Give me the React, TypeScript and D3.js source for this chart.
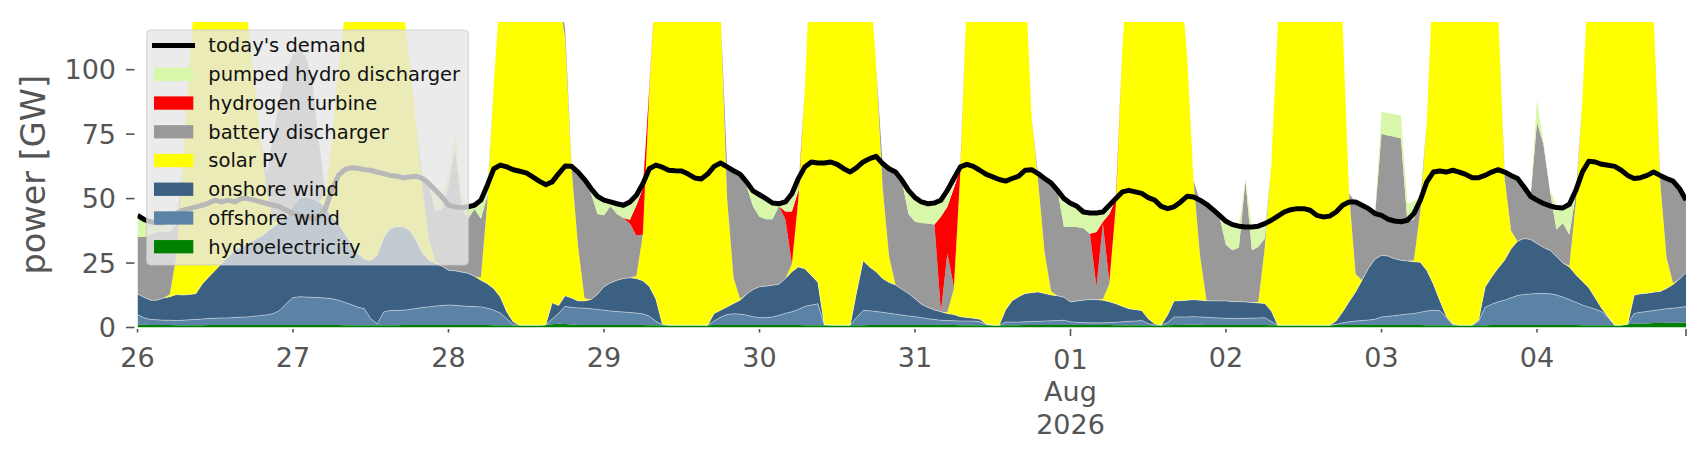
import * as d3 from 'd3'
import { useEffect, useRef } from 'react'

// hourly values in GW, 26 Jul 2026 00:00 to 04 Aug 2026 23:00, one line per day
const hydroelectricity = [
    1.1, 1.1, 1.0, 1.0, 1.0, 1.0, 0.9, 0.9, 0.9, 0.9, 0.9, 1.0, 1.0, 1.0, 1.0, 1.0, 1.0, 1.0, 1.0, 1.0, 1.0, 1.0, 1.0, 1.0,
    1.0, 1.0, 1.0, 1.0, 1.0, 1.0, 1.0, 1.0, 0.9, 0.9, 0.9, 0.9, 0.9, 0.9, 0.9, 0.9, 0.9, 1.0, 1.0, 1.0, 1.0, 1.0, 1.0, 1.0,
    1.0, 1.0, 1.0, 1.0, 1.0, 1.0, 1.0, 0.9, 0.9, 0.9, 0.9, 0.9, 0.9, 0.9, 0.9, 1.0, 1.3, 1.5, 1.4, 1.2, 1.0, 1.0, 1.0, 1.0,
    1.0, 1.0, 1.0, 1.0, 1.0, 1.0, 1.0, 0.9, 0.9, 0.9, 0.9, 0.9, 0.9, 0.9, 0.9, 0.9, 0.9, 1.0, 1.0, 1.0, 1.0, 1.0, 1.0, 1.0,
    1.0, 1.0, 1.0, 1.0, 1.0, 1.0, 1.0, 0.9, 0.9, 0.9, 0.9, 0.9, 0.9, 0.9, 0.9, 0.9, 0.9, 1.0, 1.0, 1.0, 1.0, 1.0, 1.0, 1.0,
    1.0, 1.0, 1.0, 1.0, 1.0, 1.0, 1.0, 0.9, 0.9, 0.9, 0.9, 0.9, 0.9, 0.9, 0.9, 0.9, 0.9, 1.0, 1.0, 1.0, 1.0, 1.0, 1.0, 1.0,
    1.0, 1.0, 1.0, 1.0, 1.0, 1.0, 1.0, 0.9, 0.9, 0.9, 0.9, 0.9, 0.9, 0.9, 0.9, 0.9, 1.0, 1.0, 1.1, 1.2, 1.1, 1.0, 1.0, 1.0,
    1.0, 1.0, 1.0, 1.0, 1.0, 1.0, 1.0, 0.9, 0.9, 0.9, 0.9, 0.9, 0.9, 0.9, 0.9, 0.9, 0.9, 1.0, 1.0, 1.0, 1.0, 1.0, 1.0, 1.0,
    1.0, 1.0, 1.0, 1.0, 1.0, 1.0, 1.0, 0.9, 0.9, 0.9, 0.9, 0.9, 0.9, 0.9, 0.9, 0.9, 0.9, 1.0, 1.0, 1.0, 1.0, 1.0, 1.0, 1.0,
    1.0, 1.0, 1.0, 1.0, 1.0, 1.0, 1.0, 0.9, 0.9, 0.9, 0.9, 0.9, 0.9, 0.9, 1.3, 1.5, 1.6, 1.6, 1.7, 1.7, 1.8, 1.8, 1.8, 1.8,
]

const offshoreWind = [
    3.8, 2.7, 2.1, 2.0, 1.8, 1.8, 1.8, 1.9, 2.1, 2.2, 2.4, 2.5, 2.6, 2.7, 2.7, 2.9, 3.0, 3.1, 3.4, 3.6, 3.9, 4.4, 5.7, 8.3,
    10.6, 10.9, 10.8, 10.7, 10.6, 10.4, 10.2, 9.6, 8.8, 8.0, 7.0, 6.4, 2.5, 0.5, 5.1, 5.7, 5.7, 5.7, 6.0, 6.4, 6.8, 7.0, 7.3, 7.5,
    7.7, 7.6, 7.4, 7.2, 7.1, 7.0, 6.5, 5.8, 4.7, 2.5, 0.2, 0, 0, 0, 0, 0, 2.0, 4.0, 6.8, 6.6, 6.6, 6.5, 6.3, 6.0,
    5.7, 5.4, 5.2, 5.0, 4.8, 4.6, 4.3, 3.5, 1.5, 0.2, 0, 0, 0, 0, 0, 0, 0, 1.5, 3.0, 4.0, 4.3, 4.2, 3.8, 3.2,
    2.8, 2.8, 3.1, 3.7, 4.5, 5.1, 6.0, 7.3, 7.8, 8.3, 0.2, 0, 0, 0, 0, 3.0, 5.7, 5.5, 5.2, 4.9, 4.5, 4.2, 3.8, 3.5,
    3.2, 2.8, 2.4, 2.1, 1.8, 1.7, 1.6, 1.6, 1.6, 1.6, 1.3, 0.3, 0, 0, 1.2, 1.2, 1.2, 1.2, 1.3, 1.4, 1.5, 1.6, 1.7, 1.8,
    1.2, 1.0, 0.9, 0.8, 0.8, 0.8, 0.9, 1.1, 1.3, 1.5, 1.6, 1.8, 0.6, 0, 0, 1.0, 3.1, 3.1, 3.0, 3.0, 3.0, 2.9, 2.8, 2.7,
    2.6, 2.5, 2.5, 2.6, 2.6, 2.7, 2.8, 1.4, 0, 0, 0, 0, 0, 0, 0, 0, 0, 0.2, 0.8, 1.2, 1.5, 1.7, 1.9, 2.2,
    3.1, 3.3, 3.6, 3.9, 4.2, 4.4, 4.9, 5.5, 5.8, 5.6, 3.0, 0.2, 0, 0, 0, 1.5, 7.0, 8.0, 9.0, 9.6, 10.5, 11.4, 11.8, 12.0,
    12.2, 12.2, 12.1, 11.6, 10.8, 9.8, 8.8, 7.8, 7.0, 6.2, 5.2, 3.0, 0, 0, 0, 3.9, 4.3, 4.6, 4.9, 5.2, 5.5, 5.7, 6.0, 6.3,
]

const onshoreWind = [
    8.1, 7.9, 7.5, 7.6, 8.6, 9.1, 10.1, 9.8, 9.8, 10.0, 13.6, 16.1, 18.6, 21.1, 23.7, 26.1, 27.3, 28.5, 29.5, 30.5, 32.2, 33.6, 34.3, 33.6,
    35.8, 38.5, 38.8, 38.3, 37.1, 35.4, 31.7, 29.7, 26.6, 23.6, 20.7, 19.3, 22.5, 26.5, 28.9, 31.7, 32.6, 32.3, 30.7, 26.5, 20.9, 18.1, 16.5, 15.3,
    13.5, 13.4, 13.1, 12.8, 11.8, 10.3, 9.5, 8.3, 6.2, 2.6, 1.0, 0, 0, 0, 0, 0, 6.3, 3.0, 4.1, 3.6, 2.7, 2.8, 3.6, 5.9,
    9.1, 10.9, 12.1, 13.0, 13.5, 13.4, 12.8, 11.5, 8.7, 0.3, 0, 0, 0, 0, 0, 0, 0, 2.9, 2.7, 3.0, 4.0, 5.4, 8.1, 10.5,
    12.0, 12.2, 12.3, 12.1, 13.5, 15.5, 16.5, 14.6, 11.5, 8.4, 0, 0, 0, 0, 0, 10.0, 19.3, 17.0, 15.4, 13.1, 12.0, 11.3, 10.0, 8.7,
    7.0, 5.2, 4.4, 3.7, 3.3, 2.7, 2.4, 1.7, 1.4, 1.1, 1.0, 0.2, 0, 0, 4.8, 8.3, 9.8, 11.0, 11.2, 11.4, 10.7, 10.0, 9.6, 8.9,
    7.7, 8.3, 8.7, 9.1, 9.0, 8.8, 8.1, 7.2, 6.0, 4.9, 4.4, 3.9, 1.9, 0.5, 0, 3.0, 6.2, 6.3, 6.5, 6.6, 6.5, 6.5, 6.5, 6.6,
    6.7, 6.6, 6.5, 6.3, 6.1, 5.8, 5.5, 4.1, 0, 0, 0, 0, 0, 0, 0, 0, 0, 1.3, 4.2, 7.8, 11.3, 15.6, 20.1, 23.3,
    23.9, 23.4, 22.1, 21.2, 20.6, 20.1, 19.4, 15.7, 10.2, 4.0, 0.5, 0.3, 0, 0, 0, 0.5, 7.8, 10.6, 13.0, 15.5, 19.0, 21.1, 21.7, 21.1,
    19.4, 17.8, 16.9, 14.9, 13.2, 12.7, 10.7, 9.2, 7.5, 4.3, 1.3, 0.1, 0, 0, 0, 7.1, 7.2, 7.1, 7.1, 7.1, 7.8, 9.2, 11.0, 13.1,
]

const solarPV = [
    0, 0, 0, 0, 0, 1, 15, 50, 90, 120, 128, 132, 134, 132, 128, 120, 100, 86, 62, 38, 15, 2, 0, 0,
    0, 0, 0, 0, 0, 5, 30, 60, 85, 110, 135, 148, 155, 155, 150, 140, 125, 85, 66, 45, 25, 8, 1, 0,
    0, 0, 0, 0, 0, 1, 32, 80, 120, 145, 160, 168, 170, 168, 160, 150, 135, 120, 100, 50, 21, 1, 0, 0,
    0, 0, 0, 0, 0, 1, 18, 76, 125, 150, 165, 170, 172, 170, 165, 155, 140, 125, 115, 42, 10, 0.5, 0, 0,
    0, 0, 0, 0, 0, 3, 26, 70, 130, 150, 165, 170, 172, 170, 165, 155, 140, 115, 80, 35.5, 10, 0, 0, 0,
    0, 0, 0, 0, 0, 0.5, 10, 56, 125, 150, 165, 170, 172, 170, 165, 155, 140, 125, 68, 43, 16, 1.5, 0, 0,
    0, 0, 0, 0, 0, 0.5, 7, 38, 100, 140, 155, 162, 165, 162, 158, 150, 138, 125, 95, 46, 17, 0, 0, 0,
    0, 0, 0, 0, 0, 0.5, 22, 57, 117, 145, 160, 166, 168, 166, 160, 150, 138, 125, 112, 42, 7, 0, 0, 0,
    0, 0, 0, 0, 0, 0.5, 20, 58, 122, 150, 165, 170, 172, 170, 165, 155, 140, 125, 100, 32, 7, 0, 0, 0,
    0, 0, 0, 0, 0, 0.5, 28, 70, 125, 155, 168, 172, 174, 172, 165, 150, 135, 120, 108, 43, 12, 0.5, 0, 0,
]

const batteryDischarger = [
    22.1, 23.4, 25.4, 26.4, 25.6, 24.1, 12.1, 0, 0, 0, 0, 0, 0, 0, 0, 0, 0, 0, 0, 0, 7.9, 34.0, 49.0, 57.1,
    58.6, 57.6, 54.4, 45.0, 23.3, 0, 0, 0, 0, 0, 0, 0, 0, 0, 0, 0, 0, 0, 0, 0, 3.8, 21.4, 19.2, 22.2,
    32.8, 48.0, 25.5, 21.0, 26.1, 22.9, 2.0, 0, 0, 0, 0, 0, 0, 0, 0, 0, 0, 0, 4.0, 1.1, 28.5, 45.7, 41.1, 31.1,
    27.7, 29.7, 25.7, 23.5, 21.0, 15.7, 0, 0, 0, 0, 0, 0, 0, 0, 0, 0, 0, 0, 0, 12.5, 41.2, 47.9, 42.1, 32.3,
    27.2, 26.0, 25.6, 30.2, 23.0, 0, 0.5, 0, 0, 0, 0, 0, 0, 0, 0, 0, 0, 0, 0, 9.0, 33.5, 43.0, 41.7, 30.8,
    29.8, 31.5, 32.5, 33.2, 0, 22.8, 0.8, 0, 0, 0, 0, 0, 0, 0, 0, 0, 0, 0, 0, 2.3, 28.3, 41.9, 40.7, 27.3,
    29.1, 28.7, 27.9, 25.5, 5.0, 29.2, 0.7, 0, 0, 0, 0, 0, 0, 0, 0, 0, 0, 0, 0, 0, 21.5, 37.1, 35.2, 32.7,
    21.7, 19.9, 21.0, 47.1, 20.3, 21.3, 3.2, 0, 0, 0, 0, 0, 0, 0, 0, 0, 0, 0, 0, 0, 27.7, 28.7, 22.5, 17.0,
    47.2, 46.8, 47.3, 47.2, 15.2, 16.0, 3.7, 0, 0, 0, 0, 0, 0, 0, 0, 0, 0, 0, 0, 1.9, 21.3, 23.8, 19.5, 16.4,
    47.1, 40.0, 23.0, 10.5, 15.5, 12.0, 3.5, 0, 0, 0, 0, 0, 0, 0, 0, 0, 0, 0, 0, 2.0, 30.7, 39.6, 35.0, 28.1,
]

const hydrogenTurbine = [
    0, 0, 0, 0, 0, 0, 0, 0, 0, 0, 0, 0, 0, 0, 0, 0, 0, 0, 0, 0, 0, 0, 0, 0,
    0, 0, 0, 0, 0, 0, 0, 0, 0, 0, 0, 0, 0, 0, 0, 0, 0, 0, 0, 0, 0, 0, 0, 0,
    0, 0, 0, 0, 0, 0, 0, 0, 0, 0, 0, 0, 0, 0, 0, 0, 0, 0, 0, 0, 0, 0, 0, 0,
    0, 0, 0, 0, 1.5, 11.6, 17.9, 1.5, 0, 0, 0, 0, 0, 0, 0, 0, 0, 0, 0, 0, 0, 0, 0, 0,
    0, 0, 0, 0, 3.0, 20.4, 3.0, 0, 0, 0, 0, 0, 0, 0, 0, 0, 0, 0, 0, 0, 0, 0, 0, 0,
    0, 0, 0, 0, 36.9, 18.1, 38.2, 1.5, 0, 0, 0, 0, 0, 0, 0, 0, 0, 0, 0, 0, 0, 0, 0, 0,
    0, 0, 0, 0, 21.2, 0.7, 26.3, 2.7, 0, 0, 0, 0, 0, 0, 0, 0, 0, 0, 0, 0, 0, 0, 0, 0,
    0, 0, 0, 0, 0, 0, 0, 0, 0, 0, 0, 0, 0, 0, 0, 0, 0, 0, 0, 0, 0, 0, 0, 0,
    0, 0, 0, 0, 0, 0, 0, 0, 0, 0, 0, 0, 0, 0, 0, 0, 0, 0, 0, 0, 0, 0, 0, 0,
    0, 0, 0, 0, 0, 0, 0, 0, 0, 0, 0, 0, 0, 0, 0, 0, 0, 0, 0, 0, 0, 0, 0, 0,
]

const pumpedHydroDischarger = [
    7.5, 6.5, 4.5, 3.3, 3.3, 4.0, 3.5, 0, 0, 0, 0, 0, 0, 0, 0, 0, 0, 0, 0, 0, 0, 0, 0, 0,
    0, 0, 0, 0, 0, 0, 0, 0, 0, 0, 0, 0, 0, 0, 0, 0, 0, 0, 0, 0, 0, 0, 7.0, 4.5,
    5.0, 7.0, 5.0, 4.5, 1.5, 7.2, 3.5, 0, 0, 0, 0, 0, 0, 0, 0, 0, 0, 0, 0, 0, 0, 0, 1.0, 6.0,
    5.5, 1.5, 4.0, 4.9, 6.7, 2.2, 0, 0, 0, 0, 0, 0, 0, 0, 0, 0, 0, 0, 0, 0, 0, 0, 1.5, 5.0,
    8.0, 6.7, 5.7, 1.0, 3.0, 5.0, 3.0, 0, 0, 0, 0, 0, 0, 0, 0, 0, 0, 0, 0, 0, 0, 0, 0, 8.0,
    9.0, 8.0, 7.5, 8.0, 6.0, 3.7, 1.0, 0, 0, 0, 0, 0, 0, 0, 0, 0, 0, 0, 0, 0, 0, 0, 0, 9.0,
    10.0, 8.0, 6.5, 8.0, 7.4, 3.8, 3.0, 0, 0, 0, 0, 0, 0, 0, 0, 0, 0, 0, 0, 0, 0, 0, 0, 0.5,
    9.0, 10.0, 8.5, 0.5, 8.5, 6.7, 4.5, 0, 0, 0, 0, 0, 0, 0, 0, 0, 0, 0, 0, 0, 0, 0, 0, 0,
    8.4, 8.7, 8.7, 9.0, 7.0, 7.0, 1.5, 0, 0, 0, 0, 0, 0, 0, 0, 0, 0, 0, 0, 0, 0, 0, 0, 0,
    8.5, 1.0, 0.5, 8.8, 5.5, 11.5, 1.2, 0, 0, 0, 0, 0, 0, 0, 0, 0, 0, 0, 0, 0, 0, 0, 0, 0,
]

const todaysDemand = [
    43.5, 41.9, 41.0, 40.6, 40.6, 41.6, 44.2, 45.5, 46.1, 46.8, 47.4, 48.3, 49.4, 48.7, 49.4, 48.7, 50.0, 50.0, 49.4, 48.7, 48.1, 47.4, 46.8, 45.5,
    44.2, 43.2, 42.6, 42.2, 42.9, 46.1, 53.2, 59.0, 61.2, 62.0, 61.8, 61.2, 61.0, 60.3, 59.7, 59.0, 58.7, 58.1, 58.4, 58.7, 57.8, 55.8, 53.2, 50.6,
    47.4, 46.8, 46.5, 46.8, 47.4, 49.4, 55.2, 61.6, 63.0, 62.3, 61.2, 60.6, 60.0, 58.4, 56.8, 55.4, 56.5, 59.7, 62.6, 62.5, 60.3, 57.4, 53.9, 50.9,
    49.4, 48.7, 48.0, 47.4, 48.7, 51.3, 55.8, 61.6, 63.0, 62.2, 61.0, 60.8, 60.7, 59.5, 58.0, 57.6, 59.5, 62.5, 63.8, 62.3, 60.8, 59.5, 56.5, 53.0,
    51.5, 50.0, 48.3, 48.0, 48.7, 51.9, 57.8, 62.3, 64.2, 63.8, 63.8, 64.2, 63.3, 61.6, 60.3, 62.0, 64.2, 65.5, 66.4, 63.6, 61.6, 60.3, 57.1, 53.2,
    50.4, 48.7, 48.0, 48.3, 49.4, 53.2, 57.8, 62.3, 63.3, 62.5, 61.0, 59.4, 58.4, 57.4, 56.8, 57.8, 58.7, 61.0, 61.2, 59.7, 57.8, 56.1, 53.2, 50.0,
    48.2, 47.0, 44.8, 44.4, 44.4, 44.8, 47.4, 50.0, 52.6, 53.2, 52.6, 52.0, 50.4, 49.4, 47.0, 46.1, 46.8, 48.7, 50.9, 50.6, 49.4, 47.8, 45.7, 43.5,
    41.2, 39.9, 39.3, 39.0, 39.0, 39.3, 40.3, 41.6, 43.2, 44.8, 45.7, 46.1, 46.1, 45.5, 43.5, 42.9, 43.2, 44.8, 47.4, 48.7, 48.7, 47.4, 46.1, 44.2,
    43.5, 42.0, 41.3, 41.0, 41.6, 44.2, 49.4, 56.5, 60.3, 60.7, 60.3, 61.0, 60.3, 59.4, 58.1, 58.1, 59.0, 60.3, 61.2, 60.3, 59.0, 57.8, 54.5, 50.9,
    49.4, 48.1, 47.2, 46.5, 46.4, 47.8, 53.2, 60.3, 64.5, 64.2, 63.3, 62.9, 62.5, 61.0, 59.0, 57.8, 58.1, 59.0, 60.3, 59.0, 57.8, 56.8, 53.9, 49.4,
]

// stacking order, bottom to top
const seriesNames = ['hydroelectricity', 'offshore wind', 'onshore wind', 'solar PV', 'battery discharger', 'hydrogen turbine', 'pumped hydro discharger']
const seriesValues = [hydroelectricity, offshoreWind, onshoreWind, solarPV, batteryDischarger, hydrogenTurbine, pumpedHydroDischarger]
const seriesColors = ['#008000', '#5b83a5', '#3b6082', '#ffff00', '#999999', '#ff0000', '#d9f7aa']
const yTicks = [0, 25, 50, 75, 100]

export default function App() {
    const svgRef = useRef<SVGSVGElement>(null)

    useEffect(() => {
        makeChart(svgRef)
    }, [])

    function makeChart(svgRef: React.RefObject<SVGSVGElement>) {
        const width = 1706
        const height = 460
        const left = 137.5
        const right = 1686
        const top = 22
        const bottom = 327.5
        const font = 'DejaVu Sans'
        const grey = '#555555'

        const svg = d3.select(svgRef.current).attr('width', width).attr('height', height)
        svg.selectAll('*').remove()

        const start = new Date(2026, 6, 26)
        const times = todaysDemand.map((_, i) => d3.timeHour.offset(start, i))
        const rows = times.map((t, i) => {
            const row: any = { t }
            seriesNames.forEach((name, k) => { row[name] = seriesValues[k][i] })
            return row
        })

        const x = d3.scaleTime().domain([times[0], times[times.length - 1]]).range([left, right])
        const y = d3.scaleLinear().domain([0, 118.5]).range([bottom, top])

        const stacked = d3.stack().keys(seriesNames)(rows)

        svg.append('clipPath').attr('id', 'plot-clip')
            .append('rect')
            .attr('x', left).attr('y', top)
            .attr('width', right - left).attr('height', bottom - top)

        const plot = svg.append('g').attr('clip-path', 'url(#plot-clip)')

        const area = d3.area<any>()
            .x(d => x(d.data.t))
            .y0(d => y(d[0]))
            .y1(d => y(d[1]))

        plot.selectAll('path.layer')
            .data(stacked)
            .join('path')
            .attr('class', 'layer')
            .attr('d', area)
            .attr('fill', (_, i) => seriesColors[i])

        // light seam along the top of the wind layers
        const topEdge = d3.line<any>().x(d => x(d.data.t)).y(d => y(d[1]))
        plot.selectAll('path.seam')
            .data(stacked.slice(1, 3))
            .join('path')
            .attr('class', 'seam')
            .attr('d', topEdge)
            .attr('fill', 'none')
            .attr('stroke', '#ffffff')
            .attr('stroke-opacity', 0.5)
            .attr('stroke-width', 0.9)

        const demandLine = d3.line<number>().x((_, i) => x(times[i])).y(d => y(d))
        plot.append('path')
            .datum(todaysDemand)
            .attr('d', demandLine)
            .attr('fill', 'none')
            .attr('stroke', '#000000')
            .attr('stroke-width', 5)
            .attr('stroke-linejoin', 'round')

        // y axis
        const yAxis = svg.append('g').attr('transform', `translate(${left - 3},0)`)
        yAxis.selectAll('line')
            .data(yTicks)
            .join('line')
            .attr('x1', -8.5).attr('x2', 0)
            .attr('y1', d => y(d)).attr('y2', d => y(d))
            .attr('stroke', grey).attr('stroke-width', 1.6)
        yAxis.selectAll('text')
            .data(yTicks)
            .join('text')
            .attr('x', -18.5)
            .attr('y', d => y(d))
            .attr('dy', '0.36em')
            .attr('text-anchor', 'end')
            .attr('font-family', font)
            .attr('font-size', 27)
            .attr('fill', grey)
            .text(d => d)

        svg.append('text')
            .attr('transform', `translate(44.7,${(top + bottom) / 2}) rotate(-90)`)
            .attr('text-anchor', 'middle')
            .attr('font-family', font)
            .attr('font-size', 33.5)
            .attr('fill', grey)
            .text('power [GW]')

        // x axis
        const last = times[times.length - 1]
        const days = d3.timeDay.range(start, d3.timeHour.offset(last, 1))
        const xTicks = [...days, last]
        const isMajor = (d: Date) => d.getDate() === 1 || d === last

        const xAxis = svg.append('g')
        xAxis.selectAll('line')
            .data(xTicks)
            .join('line')
            .attr('x1', d => x(d)).attr('x2', d => x(d))
            .attr('y1', bottom + 1.5)
            .attr('y2', d => bottom + (isMajor(d) ? 8.5 : 5))
            .attr('stroke', grey).attr('stroke-width', 1.6)

        const labels = xAxis.selectAll('text')
            .data(days)
            .join('text')
            .attr('x', d => x(d))
            .attr('y', d => d.getDate() === 1 ? 369 : 367)
            .attr('text-anchor', 'middle')
            .attr('font-family', font)
            .attr('font-size', 27)
            .attr('fill', grey)

        labels.each(function (d) {
            const lines = d.getDate() === 1
                ? [d3.timeFormat('%d')(d), d3.timeFormat('%b')(d), d3.timeFormat('%Y')(d)]
                : [d3.timeFormat('%d')(d)]
            d3.select(this).selectAll('tspan')
                .data(lines)
                .join('tspan')
                .attr('x', x(d))
                .attr('dy', (_, i) => i === 0 ? 0 : 32.4)
                .text(t => t)
        })

        // legend
        const legendEntries = [
            { label: "today's demand", color: '#000000', line: true },
            ...[6, 5, 4, 3, 2, 1, 0].map(k => ({ label: seriesNames[k], color: seriesColors[k], line: false })),
        ]

        const legend = svg.append('g')
        legend.append('rect')
            .attr('x', 146.7).attr('y', 30)
            .attr('width', 321.6).attr('height', 235)
            .attr('rx', 4)
            .attr('fill', '#e6e6e6').attr('fill-opacity', 0.8)
            .attr('stroke', '#cccccc').attr('stroke-opacity', 0.8)

        const entry = legend.selectAll('g.entry')
            .data(legendEntries)
            .join('g')
            .attr('class', 'entry')
            .attr('transform', (_, i) => `translate(0,${45.6 + i * 28.73})`)

        entry.filter(d => d.line).append('line')
            .attr('x1', 152).attr('x2', 195)
            .attr('stroke', d => d.color).attr('stroke-width', 5)

        entry.filter(d => !d.line).append('rect')
            .attr('x', 154).attr('y', -6.65)
            .attr('width', 39.3).attr('height', 13.3)
            .attr('fill', d => d.color)

        entry.append('text')
            .attr('x', 208.3)
            .attr('dy', '0.35em')
            .attr('font-family', font)
            .attr('font-size', 19.5)
            .attr('fill', '#111111')
            .text(d => d.label)
    }

    return (
        <svg ref={svgRef} style={{ position: 'absolute', left: 0, top: 0 }}></svg>
    )
}
